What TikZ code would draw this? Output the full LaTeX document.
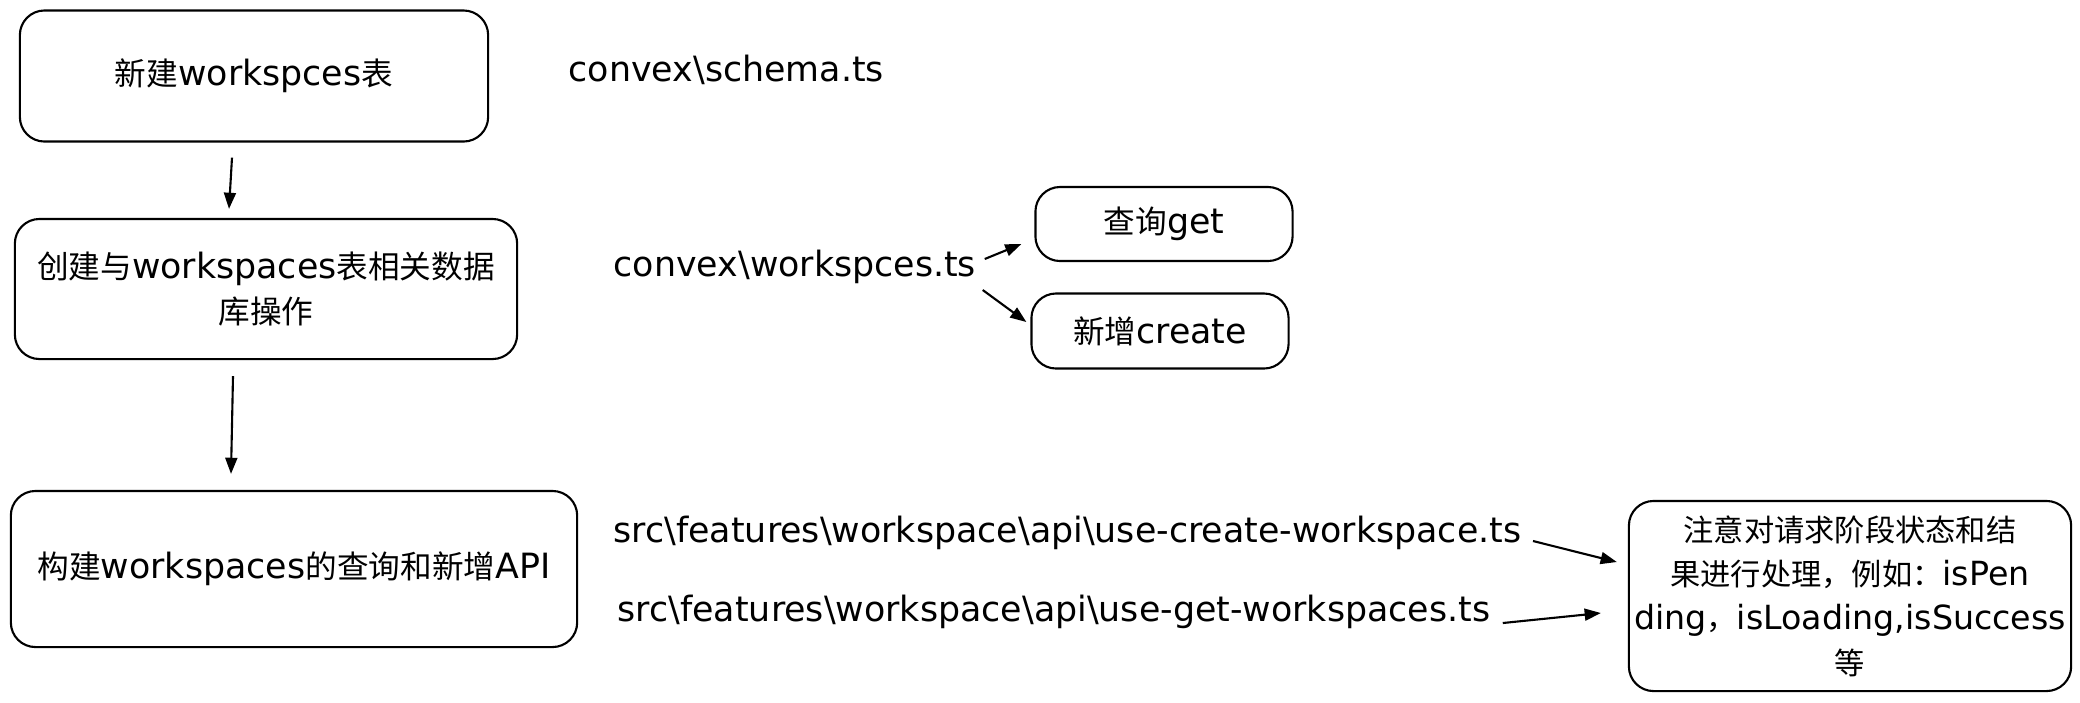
\documentclass[tikz,border=0pt]{standalone}
\usepackage{fontspec}
\setmainfont[Scale=1.1]{DejaVu Sans}
\newfontfamily\cjk{Noto Sans CJK SC}
\usetikzlibrary{arrows.meta,positioning,calc}
\tikzset{
  card/.style={draw, rounded corners=7pt, line width=0.6pt, align=center, inner sep=0pt},
  pathtxt/.style={inner sep=0pt, anchor=west},
  flow/.style={-{Triangle[length=4.6pt,width=3.4pt]}, line width=0.6pt},
}
\newcommand{\zh}[1]{{\cjk #1}}

\begin{document}
\begin{tikzpicture}[x=0.01cm, y=-0.01cm, font=\fontsize{9}{12.6}\selectfont]
  \useasboundingbox (0,0) rectangle (2080,702);
  % steps on the left
  \node[card, minimum width=4.68cm, minimum height=1.31cm] (tbl) at (254,76)
    {\zh{新建}workspces\zh{表}};
  \node[card, minimum width=5.02cm, minimum height=1.40cm] (dbops) at (266,289)
    {\zh{创建与}workspaces\zh{表相关数据}\\\zh{库操作}};
  \node[card, minimum width=5.66cm, minimum height=1.56cm] (api) at (294,569)
    {\zh{构建}workspaces\zh{的查询和新增}API};
  % files
  \node[pathtxt] (schemafile) at (568,70) {convex\textbackslash schema.ts};
  \node[pathtxt] (wsfile) at (613,267) {convex\textbackslash workspces.ts};
  \node[pathtxt] (createfile) at (613,533)
    {src\textbackslash features\textbackslash workspace\textbackslash api\textbackslash use-create-workspace.ts};
  \node[pathtxt] (getfile) at (617,612)
    {src\textbackslash features\textbackslash workspace\textbackslash api\textbackslash use-get-workspaces.ts};
  % right side
  \node[card, minimum width=2.57cm, minimum height=0.74cm] (getq) at (1164,224) {\zh{查询}get};
  \node[card, minimum width=2.57cm, minimum height=0.75cm] (createq) at (1160,331) {\zh{新增}create};
  \node[card, minimum width=4.42cm, minimum height=1.90cm, font=\fontsize{8.6}{12.6}\selectfont] (note) at (1850,596)
    {\zh{注意对请求阶段状态和结}\\\zh{果进行处理，例如：}isPen\\ding\zh{，}isLoading,isSuccess\\\zh{等}};

  \draw[flow] ($(tbl.south)+(-22,15)$) -- ($(dbops.north)+(-37,-9)$);
  \draw[flow] ($(dbops.south)+(-33,16)$) -- ($(api.north)+(-63,-16)$);
  \draw[flow] ($(wsfile.east)+(8,-8)$) -- ($(getq.west)+(-13,20)$);
  \draw[flow] ($(wsfile.east)+(6,23)$) -- ($(createq.west)+(-4,-9)$);
  \draw[flow] ($(createfile.east)+(11,8)$) -- ($(note.west)+(-11,-34)$);
  \draw[flow] ($(getfile.east)+(12,11)$) -- ($(note.west)+(-27,17)$);
\end{tikzpicture}
\end{document}
